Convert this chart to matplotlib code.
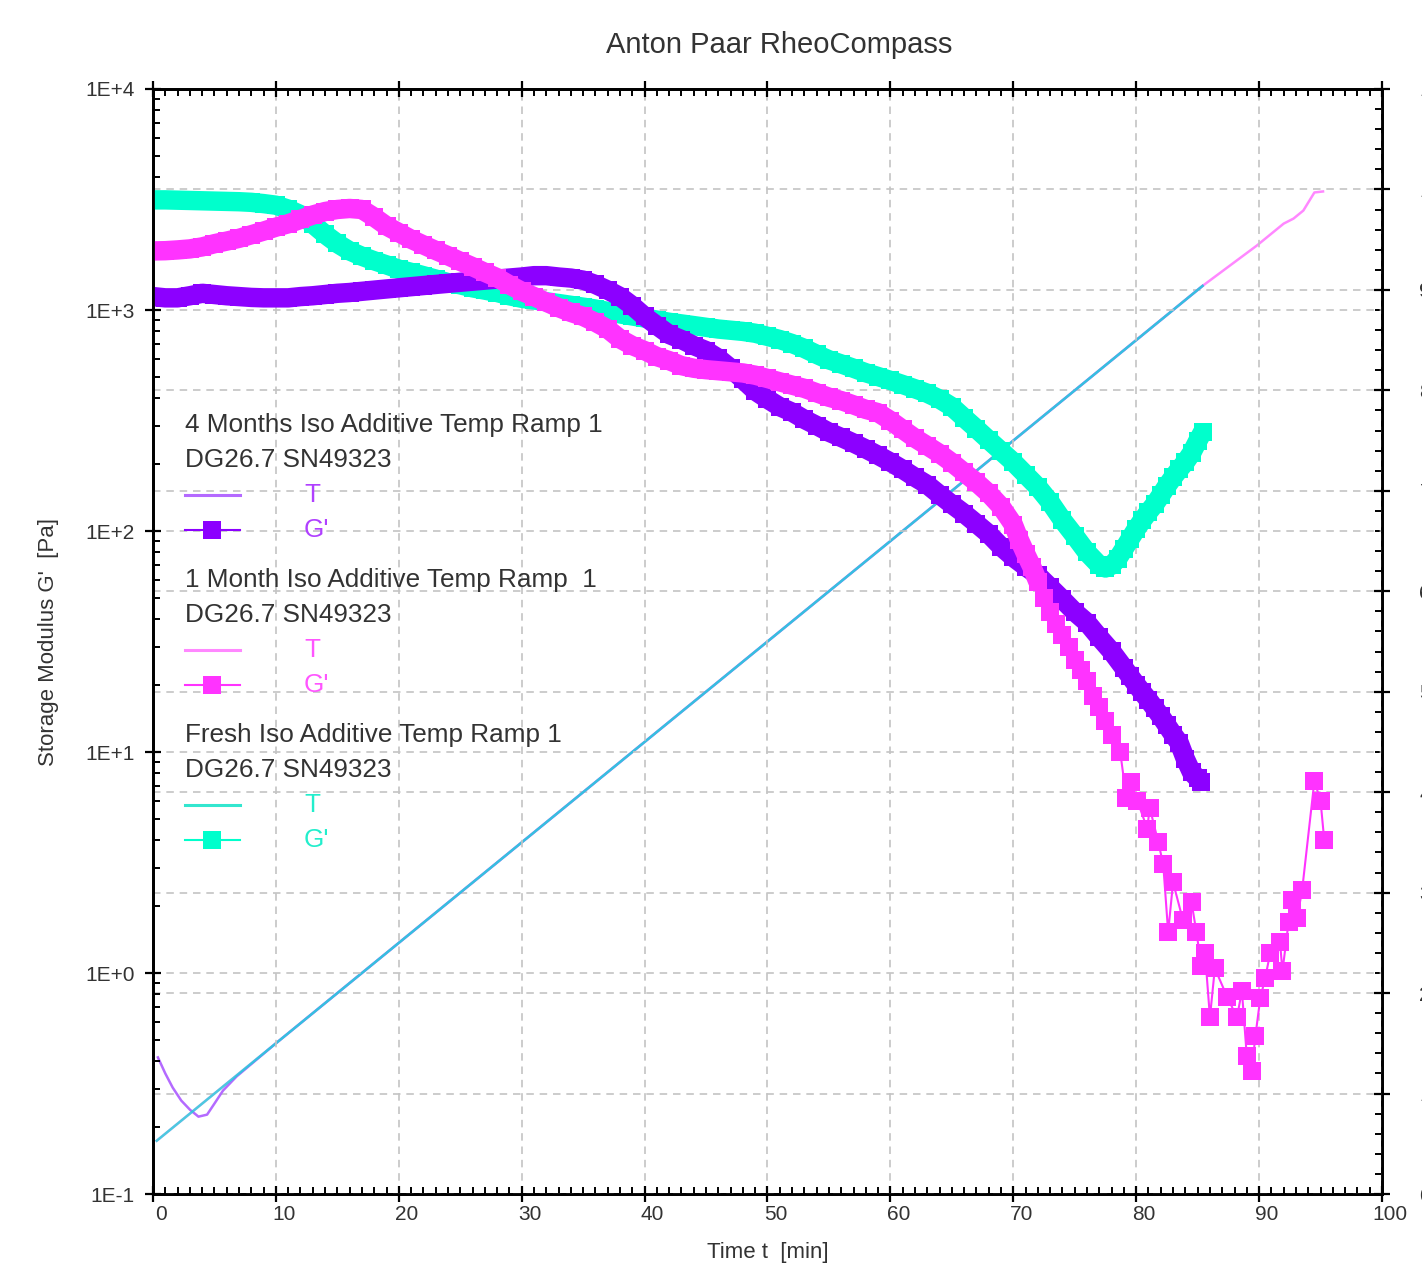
import numpy as np
import matplotlib.pyplot as plt
from matplotlib.ticker import MultipleLocator, LogLocator, NullFormatter
from matplotlib.transforms import ScaledTranslation

plt.rcParams['font.family'] = ['Liberation Sans', 'DejaVu Sans']

# ---- storage modulus G' [Pa] vs time [min] ----
t_4m = [0, 1, 2, 3, 4, 5, 6, 7, 8, 9, 10, 11, 12, 13, 14, 15, 16, 17, 18, 19,
        20, 21, 22, 23, 24, 25, 26, 27, 28, 29, 30, 31, 32, 33, 34, 35, 36, 37, 38, 39,
        40, 41, 42, 43, 44, 45, 46, 47, 48, 49, 50, 51, 52, 53, 54, 55, 56, 57, 58, 59,
        60, 61, 62, 63, 64, 65, 66, 67, 68, 69, 70, 71, 72, 73, 74, 75, 76, 77, 78, 79,
        79.5, 80, 80.5, 81, 81.5, 82, 82.5, 83, 83.5, 84, 84.5, 85, 85.3]
g_4m = [1150, 1135, 1135, 1160, 1190, 1175, 1160, 1150, 1140, 1135, 1135, 1135, 1150, 1160,
        1175, 1190, 1200, 1215, 1230, 1245, 1260, 1275, 1290, 1305, 1320, 1335, 1350, 1365,
        1380, 1395, 1410, 1430, 1430, 1410, 1395, 1365, 1305, 1230, 1150, 1045, 935, 850,
        775, 735, 690, 655, 605, 545, 485, 430, 395, 365, 345, 320, 300, 280, 265, 250,
        235, 220, 205, 190, 175, 162, 146, 132, 120, 108, 97, 85, 76, 69, 63, 55.6, 49,
        43, 38.5, 33, 28.5, 24, 22, 20.2, 18.6, 17.2, 15.8, 14.5, 13.2, 12, 11, 9.3, 8.1,
        7.6, 7.3]

t_1m = [0, 1, 2, 3, 4, 5, 6, 7, 8, 9, 10, 11, 12, 13, 14, 15, 16, 17, 18, 19,
        20, 21, 22, 23, 24, 25, 26, 27, 28, 29, 30, 31, 32, 33, 34, 35, 36, 37, 38, 39,
        40, 41, 42, 43, 44, 45, 46, 47, 48, 49, 50, 51, 52, 53, 54, 55, 56, 57, 58, 59,
        60, 61, 62, 63, 64, 65, 66, 67, 68, 69, 70, 70.5, 71, 71.5, 72, 72.5, 73, 73.5,
        74, 74.5, 75, 75.5, 76, 76.5, 77, 77.5, 78, 78.7, 79.2, 79.6, 80.1, 80.9, 81.1,
        81.8, 82.2, 82.6, 83.0, 83.8, 84.5, 84.9, 85.3, 85.6, 86.0, 86.4, 87.4, 88.2,
        88.6, 89.0, 89.4, 89.7, 90.1, 90.5, 90.9, 91.7, 91.9, 92.4, 92.7, 93.1, 93.5,
        94.5, 95.0, 95.3]
g_1m = [1850, 1855, 1870, 1890, 1930, 1995, 2050, 2110, 2190, 2275, 2370, 2455, 2570, 2690,
        2790, 2850, 2880, 2850, 2630, 2400, 2240, 2090, 1970, 1860, 1760, 1660, 1570, 1480,
        1400, 1300, 1215, 1150, 1085, 1025, 975, 935, 880, 820, 740, 690, 655, 615, 590,
        560, 545, 537, 531, 525, 519, 507, 490, 473, 457, 442, 422, 403, 389, 372, 355,
        343, 316, 288, 263, 243, 224, 204, 184, 166, 148, 129, 107, 91, 79, 69, 59, 50,
        43, 38, 34, 30, 26, 23.4, 21, 18, 16, 13.8, 12, 10, 6.2, 7.3, 6.0, 4.5, 5.6,
        3.9, 3.1, 1.53, 2.57, 1.74, 2.09, 1.53, 1.08, 1.23, 0.63, 1.05, 0.78, 0.63,
        0.83, 0.42, 0.36, 0.52, 0.77, 0.95, 1.23, 1.38, 1.02, 1.70, 2.14, 1.78, 2.37,
        7.4, 6.0, 4.0]
n_dense_1m = 75   # points up to 72 min are so close they merge into a band

t_fr = [0, 1, 2, 3, 4, 5, 6, 7, 8, 9, 10, 11, 12, 13, 14, 15, 16, 17, 18, 19,
        20, 21, 22, 23, 24, 25, 26, 27, 28, 29, 30, 31, 32, 33, 34, 35, 36, 37, 38, 39,
        40, 41, 42, 43, 44, 45, 46, 47, 48, 49, 50, 51, 52, 53, 54, 55, 56, 57, 58, 59,
        60, 61, 62, 63, 64, 65, 66, 67, 68, 69, 70, 71, 72, 73, 74, 75, 76, 77, 77.5,
        78, 78.5, 79, 79.5, 80, 80.5, 81, 81.5, 82, 82.5, 83, 83.5, 84, 84.5, 85, 85.4]
g_fr = [3150, 3150, 3140, 3130, 3120, 3110, 3100, 3090, 3070, 3030, 2980, 2860, 2700, 2450,
        2200, 2000, 1850, 1750, 1670, 1600, 1530, 1480, 1430, 1380, 1330, 1300, 1260, 1230,
        1200, 1160, 1130, 1110, 1090, 1070, 1050, 1030, 1010, 985, 960, 940, 920, 900, 880,
        865, 850, 835, 820, 810, 800, 785, 760, 735, 705, 670, 630, 595, 570, 545, 520,
        500, 480, 460, 440, 420, 395, 365, 325, 290, 258, 230, 205, 180, 158, 135, 112,
        95, 80, 70, 68, 70, 75, 83, 92, 102, 112, 122, 132, 145, 160, 175, 190, 205, 225,
        255, 280]

# ---- temperature T [°C] vs time [min] ----
tT_4m = [0.4, 1.0, 1.6, 2.3, 3.0, 3.7, 4.4, 5.0, 5.7, 6.8, 10, 20, 30, 40, 50, 60, 70, 80, 85.4]
T_4m = [13.6, 12.0, 10.6, 9.3, 8.4, 7.7, 7.9, 9.0, 10.3, 11.7, 15, 25, 35, 45, 55, 65, 75, 85, 90.4]
tT_1m = [0.3, 10, 20, 30, 40, 50, 60, 70, 80, 85.4, 89.8, 92.0, 92.8, 93.6, 94.5, 95.2]
T_1m = [5.3, 15, 25, 35, 45, 55, 65, 75, 85, 90.4, 94.4, 96.6, 97.1, 97.9, 99.7, 99.8]
tT_fr = [0.3, 10, 20, 30, 40, 50, 60, 70, 80, 85.4]
T_fr = [5.3, 15, 25, 35, 45, 55, 65, 75, 85, 90.4]

y_ticks = [0.1, 1, 10, 100, 1000, 10000]
y_labels = ['1E-1', '1E+0', '1E+1', '1E+2', '1E+3', '1E+4']

purple, purple_T = '#8c00ff', '#b46aff'
pink, pink_T = '#ff33ff', '#ff88ff'
cyan, cyan_T = '#00ffcc', '#00e6d2'
txt = '#333333'
grid_kw = dict(color='#c4c4c4', linestyle=(0, (4.5, 3.5)), linewidth=1.2)

fig = plt.figure(figsize=(14.22, 12.66), dpi=100)
ax = fig.add_axes([0.10759, 0.05687, 0.86428, 0.87283])
ax2 = ax.twinx()
ax.set_zorder(ax2.get_zorder() + 1)
ax.patch.set_visible(False)

# temperature curves (right axis, drawn underneath)
ax2.plot(tT_1m, T_1m, color=pink_T, lw=1.8)
ax2.plot(tT_4m, T_4m, color=purple_T, lw=1.8)
ax2.plot(tT_fr, T_fr, color=cyan_T, lw=1.8, alpha=0.7)

# G' curves: dense data merge into a thick band of squares
mk = dict(marker='s', markersize=13, markeredgewidth=0, lw=1.5)
band = dict(lw=14, solid_joinstyle='round', solid_capstyle='butt')
ax.plot(t_fr, g_fr, color=cyan, **band)
ax.plot(t_fr, g_fr, color=cyan, **mk)
ax.plot(t_4m, g_4m, color=purple, **band)
ax.plot(t_4m, g_4m, color=purple, **mk)
ax.plot(t_1m[:n_dense_1m], g_1m[:n_dense_1m], color=pink, **band)
ax.plot(t_1m, g_1m, color=pink, **mk)

ax.set_yscale('log')
ax.set_xlim(0, 100)
ax.set_ylim(0.1, 1e4)
ax.set_yticks(y_ticks)
ax.set_yticklabels(y_labels)
ax.yaxis.set_minor_locator(LogLocator(base=10, subs=np.arange(2, 10)))
ax.yaxis.set_minor_formatter(NullFormatter())
ax.xaxis.set_major_locator(MultipleLocator(10))
ax.xaxis.set_minor_locator(MultipleLocator(1))

ax2.set_ylim(0, 110)
ax2.yaxis.set_major_locator(MultipleLocator(10))
ax2.yaxis.set_minor_locator(MultipleLocator(2))

ax.grid(which='major', axis='both', **grid_kw)
ax2.grid(which='major', axis='y', **grid_kw)

ax.tick_params(axis='x', which='major', direction='inout', length=12, width=1.6,
               top=True, labelsize=15, labelcolor=txt, pad=2)
ax.tick_params(axis='x', which='minor', direction='in', length=5, width=1.4, top=True)
ax.tick_params(axis='y', which='major', direction='inout', length=12, width=1.6,
               right=False, labelsize=15, labelcolor=txt, pad=7)
ax.tick_params(axis='y', which='minor', direction='in', length=5, width=1.4, right=False)
ax2.tick_params(axis='y', which='major', direction='inout', length=12, width=1.6,
                labelsize=15, labelcolor=txt, pad=21)
ax2.tick_params(axis='y', which='minor', direction='in', length=5, width=1.4)

for a in (ax, ax2):
    for s in a.spines.values():
        s.set_linewidth(2)
        s.set_color('black')

shift = ScaledTranslation(0.08, 0, fig.dpi_scale_trans)
for lab in ax.get_xticklabels():
    lab.set_transform(lab.get_transform() + shift)

ax.set_xlabel('Time t  [min]', fontsize=16, color=txt)
ax.xaxis.set_label_coords(0.5, -0.0525)
ax.xaxis.label.set_va('center')
ax.set_ylabel("Storage Modulus G'  [Pa]", fontsize=16, color=txt)
ax.yaxis.set_label_coords(-0.0854, 0.5)
ax.yaxis.label.set_va('center')

fig.text(779 / 1422, 1 - 45 / 1266, 'Anton Paar RheoCompass', ha='center', va='center',
         fontsize=21, color=txt)

# legend drawn by hand (RheoCompass style)
groups = [('4 Months Iso Additive Temp Ramp 1', purple_T, purple, '#b040ff', 425),
          ('1 Month Iso Additive Temp Ramp  1', pink_T, pink, '#ff55ff', 580),
          ('Fresh Iso Additive Temp Ramp 1', '#33e6cf', cyan, '#22eecc', 735)]


def ax_y(py):
    return (1194 - py) / 1105


def ax_x(px):
    return (px - 153) / 1229


for name, ct, cg, ctxt, py in groups:
    ax.text(ax_x(185), ax_y(py), name, transform=ax.transAxes, fontsize=18.8,
            color=txt, va='center', ha='left')
    ax.text(ax_x(185), ax_y(py + 35), 'DG26.7 SN49323', transform=ax.transAxes,
            fontsize=18.8, color=txt, va='center', ha='left')
    ax.plot([ax_x(185), ax_x(240)], [ax_y(py + 70)] * 2, transform=ax.transAxes,
            color=ct, lw=2.2)
    ax.text(ax_x(304), ax_y(py + 70), 'T', transform=ax.transAxes, fontsize=18.8,
            color=ctxt, va='center', ha='left')
    ax.plot([ax_x(185), ax_x(240)], [ax_y(py + 105)] * 2, transform=ax.transAxes,
            color=cg, lw=1.5)
    ax.plot([ax_x(212)], [ax_y(py + 105)], transform=ax.transAxes, color=cg,
            marker='s', markersize=13, markeredgewidth=0)
    ax.text(ax_x(304), ax_y(py + 105), "G'", transform=ax.transAxes, fontsize=18.8,
            color=ctxt, va='center', ha='left')

fig.savefig('out.png', dpi=100)
